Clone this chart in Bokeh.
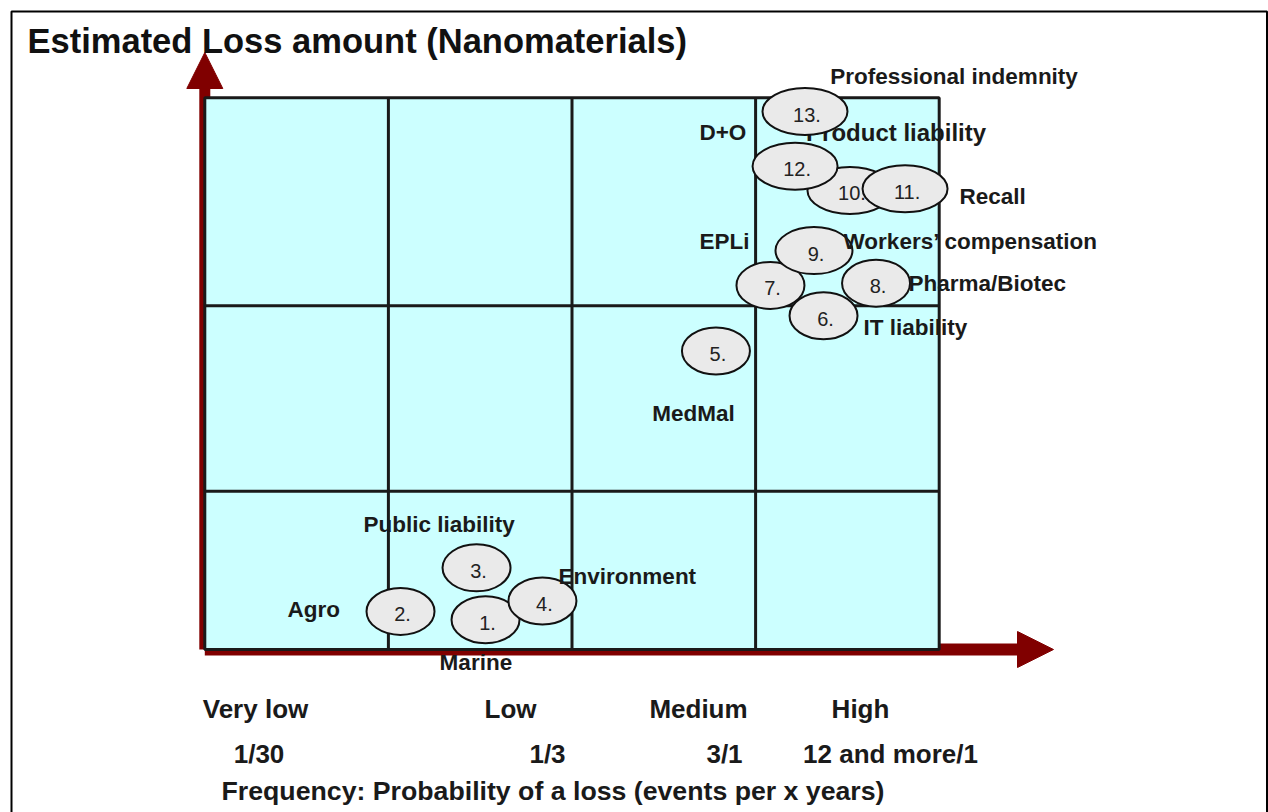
from bokeh.plotting import figure
from bokeh.models import Range1d, Arrow, NormalHead, ColumnDataSource
from bokeh.core.properties import value
from bokeh.embed import file_html
from bokeh.resources import INLINE

# ---------------- data ----------------
title_text = "Estimated Loss amount (Nanomaterials)"
x_title = "Frequency: Probability of a loss (events per x years)"
freq_classes = ["Very low", "Low", "Medium", "High"]
freq_rates = ["1/30", "1/3", "3/1", "12 and more/1"]
col_edges = [0, 1, 2, 3, 4]           # frequency classes
row_edges = [0, 0.287, 0.623, 1.0]    # loss-amount bands

risk_ids = ["1.", "2.", "3.", "4.", "5.", "6.", "7.", "8.", "9.", "10.", "11.", "12.", "13."]
risk_freq = [1.529, 1.066, 1.480, 1.839, 2.784, 3.370, 3.081, 3.656, 3.318, 3.514, 3.814, 3.215, 3.269]
risk_loss = [0.054, 0.069, 0.148, 0.088, 0.541, 0.605, 0.660, 0.664, 0.723, 0.832, 0.835, 0.876, 0.975]

label_names = ["Professional indemnity", "D+O", "Product liability", "Recall", "EPLi",
               "Workers\u2019 compensation", "Pharma/Biotec", "IT liability", "MedMal",
               "Public liability", "Environment", "Agro", "Marine"]
label_freq = [3.407, 2.694, 3.275, 4.110, 2.694, 3.479, 3.833, 3.588, 2.437, 0.864, 1.927, 0.450, 1.279]
label_loss = [1.039, 0.938, 0.938, 0.822, 0.740, 0.740, 0.664, 0.583, 0.427, 0.227, 0.133, 0.073, -0.024]

# ---------------- layout helpers (pixel mapping of the slide) ----------------
W, H = 1268, 812
PX0, PXU = 204.3, 183.6   # page x of freq=0, px per class
PY0, PYU = 649.0, 551.7   # page y of loss=0, px per unit
def fx(px): return (px - PX0) / PXU
def fy(py): return (PY0 - py) / PYU

FONT = value("Liberation Sans")
INK = "#1a1a1a"

p = figure(width=W, height=H, output_backend="svg", toolbar_location=None,
           x_range=Range1d(fx(0), fx(W)), y_range=Range1d(fy(H), fy(0)),
           x_axis_location=None, y_axis_location=None, title=None,
           min_border=0, outline_line_color=None, background_fill_color="white",
           border_fill_color="white")
p.grid.visible = False

# outer slide frame (left, top, right)
p.line(x=[fx(11), fx(11), fx(1266.5), fx(1266.5)], y=[fy(830), fy(11), fy(11), fy(830)],
       line_color="black", line_width=2)

# axis arrows (dark red), drawn below the grid
RED = "#800000"
p.add_layout(Arrow(end=NormalHead(size=36, fill_color=RED, line_color=RED, line_width=1),
                   x_start=col_edges[0], y_start=row_edges[0], x_end=col_edges[0], y_end=fy(52),
                   line_color=RED, line_width=11, level="underlay"))
p.add_layout(Arrow(end=NormalHead(size=36, fill_color=RED, line_color=RED, line_width=1),
                   x_start=col_edges[0], y_start=row_edges[0], x_end=fx(1053), y_end=row_edges[0],
                   line_color=RED, line_width=12, level="underlay"))

# cyan grid
p.quad(left=[col_edges[0]], right=[col_edges[-1]], bottom=[row_edges[0]], top=[row_edges[-1]],
       fill_color="#CCFFFF", line_color=INK, line_width=3)
p.segment(x0=col_edges[1:-1], y0=[row_edges[0]] * 3, x1=col_edges[1:-1], y1=[row_edges[-1]] * 3,
          line_color=INK, line_width=3)
p.segment(x0=[col_edges[0]] * 2, y0=row_edges[1:-1], x1=[col_edges[-1]] * 2, y1=row_edges[1:-1],
          line_color=INK, line_width=3)

# label partly hidden under bubble 13
i_pl = label_names.index("Product liability")
p.text(x=[label_freq[i_pl]], y=[label_loss[i_pl]], text=[label_names[i_pl]], text_font=FONT,
       text_font_style="bold", text_font_size="24px", text_color=INK, text_align="left",
       text_baseline="middle")

# bubbles, each drawn with its number so later bubbles cover earlier ones
order = [0, 3, 1, 2, 4, 6, 7, 5, 8, 9, 10, 11, 12]
widths = {"9.": 77}
for i in order:
    rid = risk_ids[i]
    s = ColumnDataSource(dict(x=[risk_freq[i]], y=[risk_loss[i]], t=[rid],
                              w=[widths.get(rid, 85 if len(rid) > 2 else 68)]))
    p.ellipse(x="x", y="y", width="w", height=47, width_units="screen", height_units="screen",
              source=s, fill_color="#EAEAEA", line_color="#111111", line_width=2)
    p.text(x="x", y="y", text="t", source=s, text_font=FONT, text_font_size="20px",
           text_color="#222222", text_align="center", text_baseline="middle", x_offset=2, y_offset=3)

# remaining category labels
idx_o = [i for i in range(len(label_names)) if i != i_pl]
lsrc = ColumnDataSource(dict(x=[label_freq[i] for i in idx_o], y=[label_loss[i] for i in idx_o],
                             t=[label_names[i] for i in idx_o]))
p.text(x="x", y="y", text="t", source=lsrc, text_font=FONT, text_font_style="bold",
       text_font_size="22.5px", text_color=INK, text_align="left", text_baseline="middle")

# title
p.text(x=[fx(27)], y=[fy(40.5)], text=[title_text], text_font=FONT, text_font_style="bold",
       text_font_size="34.5px", text_color="#111111", text_align="left", text_baseline="middle")

# frequency scale below the chart
class_x = [fx(255), fx(510), fx(698), fx(860)]
rate_x = [fx(258.5), fx(547), fx(724), fx(890)]
p.text(x=class_x, y=[fy(708.5)] * 4, text=freq_classes, text_font=FONT, text_font_style="bold",
       text_font_size="26px", text_color=INK, text_align="center", text_baseline="middle")
p.text(x=rate_x, y=[fy(753)] * 4, text=freq_rates, text_font=FONT, text_font_style="bold",
       text_font_size="26px", text_color=INK, text_align="center", text_baseline="middle")
p.text(x=[fx(552.5)], y=[fy(790)], text=[x_title], text_font=FONT, text_font_style="bold",
       text_font_size="26.7px", text_color=INK, text_align="center", text_baseline="middle")

open("out.html", "w").write(file_html(p, INLINE))
